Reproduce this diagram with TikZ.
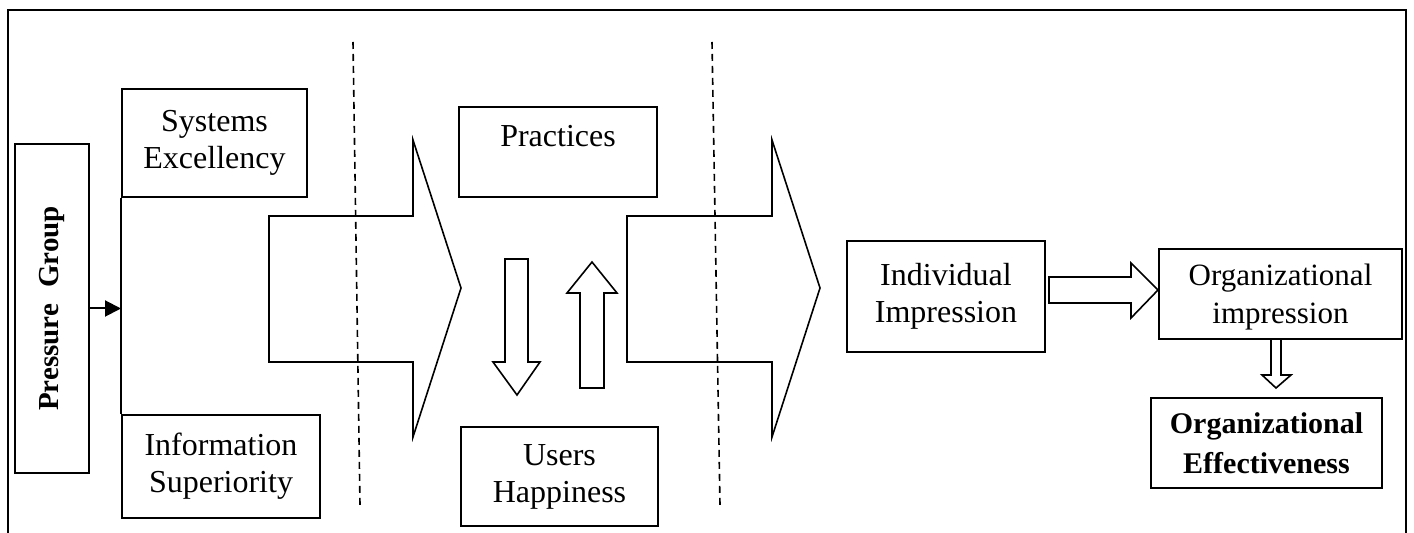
\documentclass[tikz,border=0pt]{standalone}
\usepackage{fontspec}
\setmainfont{Liberation Serif}
\usetikzlibrary{arrows.meta}

\tikzset{
  box/.style={draw, line width=1pt, inner sep=0pt, align=center,
    font=\fontsize{16}{18.5}\selectfont},
  txt/.style={inner sep=0pt, align=center, font=\fontsize{16}{18.5}\selectfont},
  blockarrow/.style={draw, line width=0.8pt, line join=miter},
  divider/.style={line width=0.8pt, dash pattern=on 3.5pt off 2.5pt},
  frame/.style={line width=1pt},
  link/.style={line width=1pt}
}

\begin{document}
\begin{tikzpicture}[x=0.5pt, y=-0.5pt]
  \useasboundingbox (0,0) rectangle (1414,533);

  % outer frame (open at the bottom)
  \draw[frame] (8,533) -- (8,10.5) -- (1406,10.5) -- (1406,533);

  % stage dividers
  \draw[divider] (353,42) -- (360,505);
  \draw[divider] (712,42) -- (720,505);

  % first stage
  \node[box, minimum width=37pt, minimum height=164.5pt] (pg) at (52,308.5)
    {\rotatebox{90}{\fontsize{14.5}{17}\selectfont\bfseries Pressure\hspace{8pt}Group}};
  \node[box, minimum width=92.5pt, minimum height=54pt] (sys) at (214.5,143)
    {Systems\\Excellency};
  \node[box, minimum width=99pt, minimum height=51.5pt] (info) at (221,466.5)
    {Information\\Superiority};
  \draw[link] (sys.south west) -- (info.north west);
  \draw[link, -{Triangle[length=8pt,width=8pt]}] (pg.east) -- (pg.east -| sys.west);

  % big arrow into the middle stage
  \draw[blockarrow] (269,216) -- (413,216) -- (413,140) -- (461,288)
    -- (413,437) -- (413,362) -- (269,362) -- cycle;

  % middle stage
  \node[box, minimum width=99pt, minimum height=45pt] (prac) at (558,152) {};
  \node[txt] (practxt) at (558,136) {Practices};
  \node[box, minimum width=98.5pt, minimum height=49.5pt] (users) at (559.5,476.5)
    {Users\\Happiness};
  % down arrow: practices to users
  \draw[blockarrow] (505,259) -- (528,259) -- (528,362) -- (540,362) -- (517,395)
    -- (493,362) -- (505,362) -- cycle;
  % up arrow: users to practices
  \draw[blockarrow] (580,388) -- (604,388) -- (604,293) -- (617,293) -- (592,262)
    -- (567,293) -- (580,293) -- cycle;

  % big arrow into the last stage
  \draw[blockarrow] (627,216) -- (772,216) -- (772,140) -- (820,288)
    -- (772,437) -- (772,362) -- (627,362) -- cycle;

  % last stage
  \node[box, minimum width=99pt, minimum height=55.5pt] (ind) at (946,296.5)
    {Individual\\Impression};
  \node[box, minimum width=121.5pt, minimum height=45pt] (orgi) at (1280.5,294) {};
  \node[txt, font=\fontsize{15.5}{19}\selectfont] (orgitxt) at (1280.5,297)
    {Organizational\\impression};
  \node[box, minimum width=115.5pt, minimum height=45pt,
        font=\fontsize{15}{20}\selectfont\bfseries] (orge) at (1266.5,443)
    {Organizational\\Effectiveness};

  % individual -> organizational impression
  \draw[blockarrow] (1049,277) -- (1131,277) -- (1131,263) -- (1158,290)
    -- (1131,318) -- (1131,303) -- (1049,303) -- cycle;
  % organizational impression -> effectiveness
  \draw[blockarrow] (1271,339) -- (1281,339) -- (1281,375) -- (1291,375)
    -- (1276,388) -- (1262,375) -- (1271,375) -- cycle;
\end{tikzpicture}
\end{document}
